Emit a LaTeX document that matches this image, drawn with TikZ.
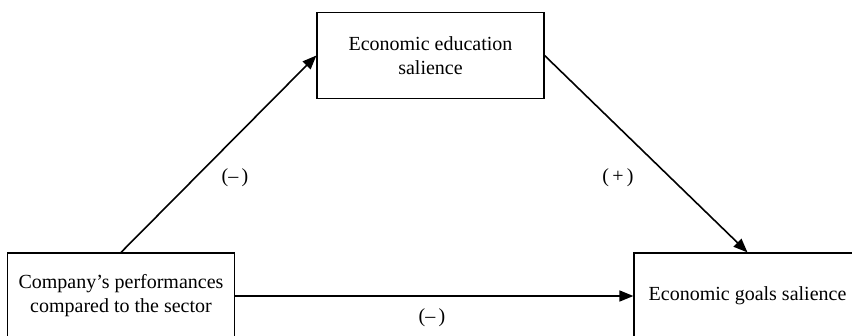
\documentclass[tikz,border=0pt]{standalone}
\usepackage{fontspec}
\setmainfont{Liberation Serif}
\usetikzlibrary{arrows.meta, positioning}
\definecolor{cInk}{RGB}{0,0,0}
\tikzset{
  %% boxes
  vbox/.style={rectangle, draw=cInk, line width=1.2pt, minimum width=227pt,
               minimum height=86pt, align=center, inner sep=0pt,
               font=\fontsize{20}{24}\selectfont},
  %% edges
  link/.style={draw=cInk, line width=1.6pt, -{Triangle[length=14pt, width=11pt]}},
  sign/.style={font=\fontsize{20}{24}\selectfont, inner sep=0pt},
}

\begin{document}
\begin{tikzpicture}[x=1pt, y=-1pt]

%% -- frame --
\useasboundingbox (0,0) rectangle (852,335);

%% --- boxes ---
\node[vbox] (perf) at (121, 296)   {Company's performances\\compared to the sector};
\node[vbox] (edu)  at (430.5, 55.5) {Economic education\\salience};
\node[vbox] (goal) at (747.5, 296) {Economic goals salience};

%% --- paths ---
\draw[link] (perf.north) -- (edu.west);
\draw[link] (edu.east) -- (goal.north);
\draw[link] (perf.east) -- (goal.west);

%% --- signs ---
\node[sign] (sA) at (235, 178) {(–\,)};
\node[sign] (sB) at (618, 178) {(\,+\,)};
\node[sign] (sC) at (432, 318) {(–\,)};

\end{tikzpicture}
\end{document}
